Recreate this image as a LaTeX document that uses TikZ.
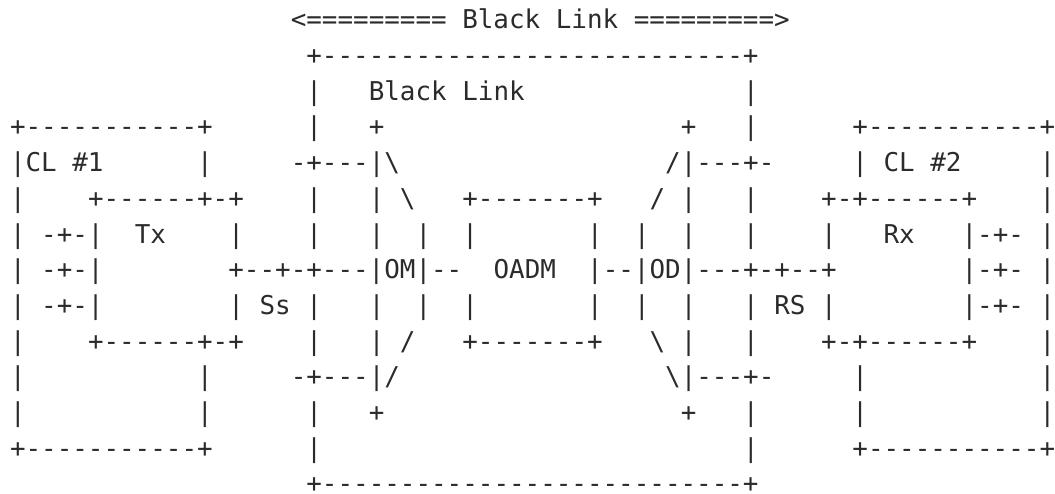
\documentclass[tikz,border=0pt]{standalone}
\usepackage{fontspec}
\setmonofont{DejaVu Sans Mono}
\definecolor{ink}{HTML}{2B2B2B}
\tikzset{seg/.style={anchor=base west, inner sep=0pt, outer sep=0pt, text depth=0pt,
  font=\ttfamily\fontsize{25.9}{30}\selectfont, text=ink}}
% row, column, text
\newcommand\seg[3]{\node[seg] (s#1-#2) at ({10+15.6*#2}, {-28.8-35.7*#1}) {#3};}
\begin{document}
\begin{tikzpicture}[x=1pt,y=1pt]
\useasboundingbox (0,0) rectangle (1055,-493);
\seg{0}{18}{<========= Black Link =========>}
\seg{1}{19}{+---------------------------+}
\seg{2}{19}{|}\seg{2}{23}{Black Link}\seg{2}{47}{|}
\seg{3}{0}{+-----------+}\seg{3}{19}{|}\seg{3}{23}{+}\seg{3}{43}{+}\seg{3}{47}{|}\seg{3}{54}{+-----------+}
\seg{4}{0}{|CL \#1}\seg{4}{12}{|}\seg{4}{18}{-+---|\textbackslash}\seg{4}{42}{/|---+-}\seg{4}{54}{| CL \#2}\seg{4}{66}{|}
\seg{5}{0}{|}\seg{5}{5}{+------+-+}\seg{5}{19}{|}\seg{5}{23}{| \textbackslash}\seg{5}{29}{+-------+}\seg{5}{41}{/ |}\seg{5}{47}{|}\seg{5}{52}{+-+------+}\seg{5}{66}{|}
\seg{6}{0}{| -+-|}\seg{6}{8}{Tx}\seg{6}{14}{|}\seg{6}{19}{|}\seg{6}{23}{|}\seg{6}{26}{|}\seg{6}{29}{|}\seg{6}{37}{|}\seg{6}{40}{|}\seg{6}{43}{|}\seg{6}{47}{|}\seg{6}{52}{|}\seg{6}{56}{Rx}\seg{6}{61}{|-+- |}
\seg{7}{0}{| -+-|}\seg{7}{14}{+--+-+---|OM|--}\seg{7}{31}{OADM}\seg{7}{37}{|--|OD|---+-+--+}\seg{7}{61}{|-+- |}
\seg{8}{0}{| -+-|}\seg{8}{14}{| Ss |}\seg{8}{23}{|}\seg{8}{26}{|}\seg{8}{29}{|}\seg{8}{37}{|}\seg{8}{40}{|}\seg{8}{43}{|}\seg{8}{47}{| RS |}\seg{8}{61}{|-+- |}
\seg{9}{0}{|}\seg{9}{5}{+------+-+}\seg{9}{19}{|}\seg{9}{23}{| /}\seg{9}{29}{+-------+}\seg{9}{41}{\textbackslash{} |}\seg{9}{47}{|}\seg{9}{52}{+-+------+}\seg{9}{66}{|}
\seg{10}{0}{|}\seg{10}{12}{|}\seg{10}{18}{-+---|/}\seg{10}{42}{\textbackslash|---+-}\seg{10}{54}{|}\seg{10}{66}{|}
\seg{11}{0}{|}\seg{11}{12}{|}\seg{11}{19}{|}\seg{11}{23}{+}\seg{11}{43}{+}\seg{11}{47}{|}\seg{11}{54}{|}\seg{11}{66}{|}
\seg{12}{0}{+-----------+}\seg{12}{19}{|}\seg{12}{47}{|}\seg{12}{54}{+-----------+}
\seg{13}{19}{+---------------------------+}
\end{tikzpicture}
\end{document}
